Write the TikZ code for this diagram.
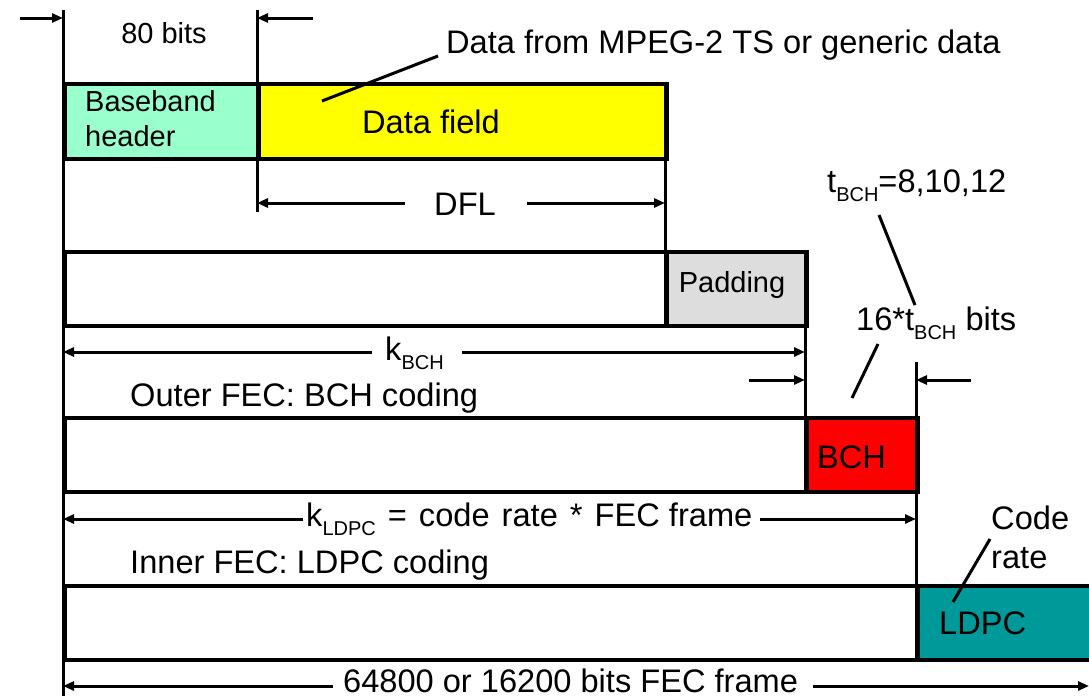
\documentclass[tikz,border=0pt]{standalone}
\usepackage{fontspec}
\setmainfont{Liberation Sans}
\usetikzlibrary{arrows.meta}
\definecolor{bbc}{HTML}{99FFCC}
\definecolor{dfc}{HTML}{FFFF00}
\definecolor{padc}{HTML}{DDDDDD}
\definecolor{bchc}{HTML}{FF0000}
\definecolor{ldpcc}{HTML}{009999}
\newcommand\mysub[1]{\raisebox{-0.5ex}{\fontsize{20}{20}\selectfont #1}}
\newcommand\bigf{\fontsize{32.6}{39}\selectfont}
\newcommand\smf{\fontsize{29}{35}\selectfont}
\tikzset{
  fbox/.style={draw=black, line width=4pt, anchor=north west, inner sep=0pt},
  lbl/.style={inner sep=0pt, font=\bigf},
  slbl/.style={inner sep=0pt, font=\smf},
  dim/.style={line width=3pt, -{Triangle[length=11pt,width=9pt]}},
  ext/.style={line width=3pt},
  lead/.style={line width=3pt}
}
\begin{document}
\begin{tikzpicture}[x=1pt,y=-1pt]
\useasboundingbox (0,0) rectangle (1089,696);
% boxes
\node[fbox, fill=bbc, minimum width=194pt, minimum height=75pt] (bb) at (63,82) {};
\node[fbox, fill=dfc, minimum width=408pt, minimum height=75pt] (df) at (257,82) {};
\node[fbox, fill=white, minimum width=602pt, minimum height=74pt] (r2) at (63,250) {};
\node[fbox, fill=padc, minimum width=140pt, minimum height=74pt] (pad) at (665,250) {};
\node[fbox, fill=white, minimum width=742pt, minimum height=74pt] (r3) at (63,416) {};
\node[fbox, fill=bchc, minimum width=111pt, minimum height=74pt] (bch) at (805,416) {};
\node[fbox, fill=white, minimum width=853pt, minimum height=74pt] (r4) at (63,584) {};
\node[fbox, fill=ldpcc, minimum width=180pt, minimum height=74pt] (ldpc) at (916,584) {};
% extension lines
\coordinate (v1t) at (63,10);  \coordinate (v1b) at (63,696);
\coordinate (v2t) at (257,10); \coordinate (v2b) at (257,212);
\coordinate (v3t) at (665,82); \coordinate (v3b) at (665,324);
\coordinate (v4t) at (805,250); \coordinate (v4b) at (805,490);
\coordinate (v5t) at (916,362); \coordinate (v5b) at (916,658);
\draw[ext] (v1t) -- (v1b);
\draw[ext] (v2t) -- (v2b);
\draw[ext] (v3t) -- (v3b);
\draw[ext] (v4t) -- (v4b);
\draw[ext] (v5t) -- (v5b);
% box texts
\node[slbl, anchor=west, align=left] (bbt) at (85,119) {Baseband\\header};
\node[lbl] (dft) at (431,122) {Data field};
\node[slbl] (padt) at (732,285) {Padding};
\node[lbl, anchor=west] (bcht) at (817,457) {BCH};
\node[lbl, anchor=west] (ldpct) at (939,623) {LDPC};
% 80 bits
\node[slbl] (b80) at (164,33) {80 bits};
\coordinate (a1s) at (20,18); \coordinate (a1e) at (63,18);
\coordinate (a2s) at (313,18); \coordinate (a2e) at (257,18);
\draw[dim] (a1s) -- (a1e);
\draw[dim] (a2s) -- (a2e);
% data from MPEG
\node[lbl, anchor=west] (mpeg) at (446,45) {Data from MPEG-2 TS or generic data};
\coordinate (mpl) at (322,101);
\draw[lead] (mpl) -- (438,56);
% DFL
\node[lbl] (dfl) at (465,204) {DFL};
\coordinate (dfll) at (405,203); \coordinate (dflr) at (527,203);
\coordinate (dflle) at (257,203); \coordinate (dflre) at (665,203);
\draw[dim] (dfll) -- (dflle);
\draw[dim] (dflr) -- (dflre);
% kBCH
\node[lbl, anchor=west] (kbch) at (385,353) {k\mysub{BCH}};
\coordinate (kbl) at (372,352); \coordinate (kbr) at (462,352);
\coordinate (kble) at (63,352); \coordinate (kbre) at (805,352);
\draw[dim] (kbl) -- (kble);
\draw[dim] (kbr) -- (kbre);
\node[lbl, anchor=west] (outer) at (130,398) {Outer FEC: BCH coding};
% tBCH
\node[lbl, anchor=west] (tbch) at (827,186) {t\mysub{BCH}=8,10,12};
\node[lbl, anchor=west] (t16) at (856,323) {16*t\mysub{BCH} bits};
\coordinate (tl1) at (879,215); \coordinate (tl2) at (915,305);
\draw[lead] (tl1) -- (tl2);
\coordinate (tl3) at (878,344); \coordinate (tl4) at (852,398);
\draw[lead] (tl3) -- (tl4);
\coordinate (p1s) at (749,380); \coordinate (p1e) at (805,380);
\coordinate (p2s) at (971,380); \coordinate (p2e) at (916,380);
\draw[dim] (p1s) -- (p1e);
\draw[dim] (p2s) -- (p2e);
% kLDPC
\node[lbl, anchor=west] (kldpc) at (306,519) {k\mysub{LDPC}\hspace{3pt} =\hspace{3pt} code\hspace{3pt} rate\hspace{3pt} *\hspace{3pt} FEC frame};
\coordinate (kll) at (303,519); \coordinate (klr) at (760,519);
\coordinate (klle) at (63,519); \coordinate (klre) at (916,519);
\draw[dim] (kll) -- (klle);
\draw[dim] (klr) -- (klre);
\node[lbl, anchor=west] (inner) at (130,565) {Inner FEC: LDPC coding};
% code rate
\node[lbl, anchor=west, align=left] (cr) at (991,537) {Code\\rate};
\coordinate (cr1) at (990,539); \coordinate (cr2) at (953,602);
\draw[lead] (cr1) -- (cr2);
% bottom
\node[lbl, anchor=west] (fec) at (343,681) {64800 or 16200 bits FEC frame};
\coordinate (fl) at (333,686); \coordinate (fr) at (813,686);
\coordinate (fle) at (63,686); \coordinate (fre) at (1089,686);
\draw[dim] (fl) -- (fle);
\draw[dim] (fr) -- (fre);
\end{tikzpicture}
\end{document}
